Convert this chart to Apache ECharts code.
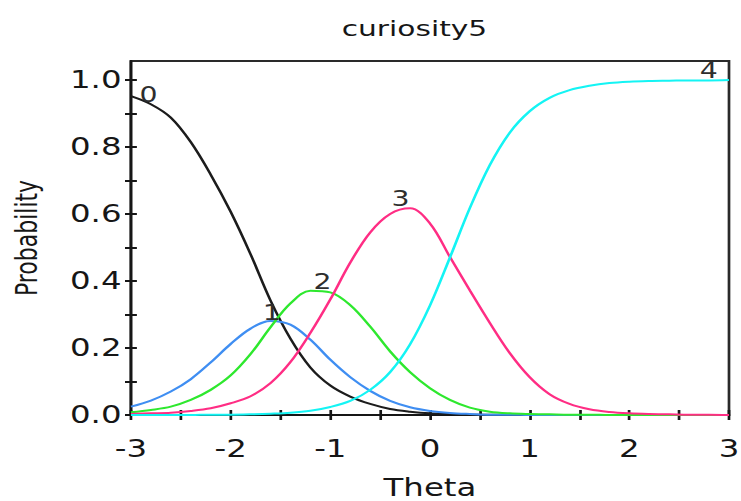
<!DOCTYPE html>
<html>
<head>
<meta charset="utf-8">
<script src="https://cdn.jsdelivr.net/npm/echarts@6/dist/echarts.min.js"></script>
<style>
  html, body { margin: 0; padding: 0; background: #fff; overflow: hidden; }
  /* the source picture is stretched sideways, so draw narrow and widen */
  #main { width: 549px; height: 501px; transform: scaleX(1.35); transform-origin: 0 0; }
</style>
</head>
<body>
<div id="main"></div>
<script>
// theta grid and category response curves
const theta = [-3.0, -2.8, -2.6, -2.4, -2.2, -2.0, -1.8, -1.6, -1.4, -1.2, -1.0,
  -0.8, -0.6, -0.4, -0.2, 0.0, 0.2, 0.4, 0.6, 0.8, 1.0,
  1.2, 1.4, 1.6, 1.8, 2.0, 2.2, 2.4, 2.6, 2.8, 3.0]

const prob0 = [0.952, 0.928, 0.888, 0.815, 0.718, 0.607, 0.480, 0.342, 0.228, 0.142, 0.088,
  0.055, 0.033, 0.018, 0.010, 0.005, 0.003, 0.001, 0.001, 0, 0,
  0, 0, 0, 0, 0, 0, 0, 0, 0, 0]
const prob1 = [0.025, 0.043, 0.070, 0.107, 0.157, 0.212, 0.258, 0.281, 0.270, 0.225, 0.165,
  0.113, 0.072, 0.042, 0.023, 0.012, 0.006, 0.003, 0.001, 0.001, 0,
  0, 0, 0, 0, 0, 0, 0, 0, 0, 0]
const prob2 = [0.008, 0.015, 0.025, 0.045, 0.075, 0.118, 0.182, 0.262, 0.333, 0.371, 0.366,
  0.328, 0.264, 0.190, 0.128, 0.080, 0.045, 0.022, 0.010, 0.005, 0.003,
  0.002, 0.001, 0.001, 0, 0, 0, 0, 0, 0, 0]
const prob3 = [0.003, 0.005, 0.007, 0.012, 0.020, 0.035, 0.056, 0.095, 0.158, 0.245, 0.345,
  0.455, 0.545, 0.600, 0.617, 0.572, 0.472, 0.372, 0.275, 0.185, 0.113,
  0.062, 0.033, 0.017, 0.009, 0.005, 0.003, 0.002, 0.001, 0.001, 0]
const prob4 = [0, 0, 0, 0, 0.001, 0.001, 0.002, 0.004, 0.007, 0.013, 0.024,
  0.042, 0.075, 0.128, 0.211, 0.327, 0.470, 0.618, 0.746, 0.843, 0.907,
  0.947, 0.970, 0.983, 0.991, 0.995, 0.997, 0.998, 0.999, 0.999, 1.000]

const curveNames = ['0', '1', '2', '3', '4']
const xTicks = [-3, -2.5, -2, -1.5, -1, -0.5, 0, 0.5, 1, 1.5, 2, 2.5, 3]
const xLabels = [-3, -2, -1, 0, 1, 2, 3]
const yTicks = [0, 0.1, 0.2, 0.3, 0.4, 0.5, 0.6, 0.7, 0.8, 0.9, 1.0]
const yLabels = [0, 0.2, 0.4, 0.6, 0.8, 1.0]

const curves = [prob0, prob1, prob2, prob3, prob4]
const colors = ['#1c1c1c', '#3f8ef2', '#2ee82e', '#ff2d84', '#14f4f4']
// where each curve number sits relative to the curve's highest point
const labelOffsets = [[13, -1], [1, -8], [9, -9], [-7, -10], [-15, -9]]

const font = 'DejaVu Sans, Verdana, sans-serif'
const ink = '#161616'

function pairs(ys) {
  return theta.map((t, i) => [t, ys[i]])
}

function makeXAxis(inner) {
  return {
    type: 'value', min: -3, max: 3, position: 'bottom',
    axisLine: { show: !inner, onZero: false, lineStyle: { color: ink, width: 2 } },
    axisTick: { show: true, inside: inner, length: 5, customValues: xTicks,
      lineStyle: { color: ink, width: 2 } },
    axisLabel: inner ? { show: false } : {
      customValues: xLabels, margin: 22, color: ink, fontFamily: font, fontSize: 24,
      formatter: v => String(v)
    },
    splitLine: { show: false },
    name: inner ? '' : 'Theta',
    nameLocation: 'middle', nameGap: 61, nameMoveOverlap: false,
    nameTextStyle: { color: ink, fontFamily: font, fontSize: 24 }
  }
}

function makeYAxis(inner) {
  return {
    type: 'value', min: 0, max: 1.057, position: 'left',
    axisLine: { show: !inner, onZero: false, lineStyle: { color: ink, width: 2 } },
    axisTick: { show: true, inside: inner, length: 4.4, customValues: yTicks,
      lineStyle: { color: ink, width: 2 } },
    axisLabel: inner ? { show: false } : {
      customValues: yLabels, margin: 7, color: ink, fontFamily: font, fontSize: 24,
      formatter: v => v.toFixed(1)
    },
    splitLine: { show: false },
    name: inner ? '' : 'Probability',
    nameLocation: 'middle', nameGap: 66, nameRotate: 90, nameMoveOverlap: false,
    nameTextStyle: { color: ink, fontFamily: font, fontSize: 22 }
  }
}

const chart = echarts.init(document.getElementById('main'), null, { renderer: 'svg' })

chart.setOption({
  animation: false,
  title: {
    text: 'curiosity5', left: 302, top: 12, textAlign: 'center',
    textStyle: { color: ink, fontFamily: font, fontSize: 22, fontWeight: 'normal' }
  },
  grid: {
    left: 97, top: 61, width: 443, height: 354,
    show: true, borderColor: '#2a2a2a', borderWidth: 2,
    outerBoundsMode: 'none'
  },
  xAxis: [makeXAxis(false), makeXAxis(true)],
  yAxis: [makeYAxis(false), makeYAxis(true)],
  series: curves.map((ys, k) => ({
    name: curveNames[k],
    type: 'line',
    data: pairs(ys),
    showSymbol: false,
    smooth: 0.35,
    lineStyle: { color: colors[k], width: 2 },
    itemStyle: { color: colors[k] },
    markPoint: {
      symbol: 'circle', symbolSize: 0, silent: true,
      data: [{ type: 'max' }],
      label: {
        show: true, position: 'inside', offset: labelOffsets[k],
        formatter: curveNames[k], color: '#2e2e2e', fontFamily: font, fontSize: 21
      }
    }
  }))
})
</script>
</body>
</html>
